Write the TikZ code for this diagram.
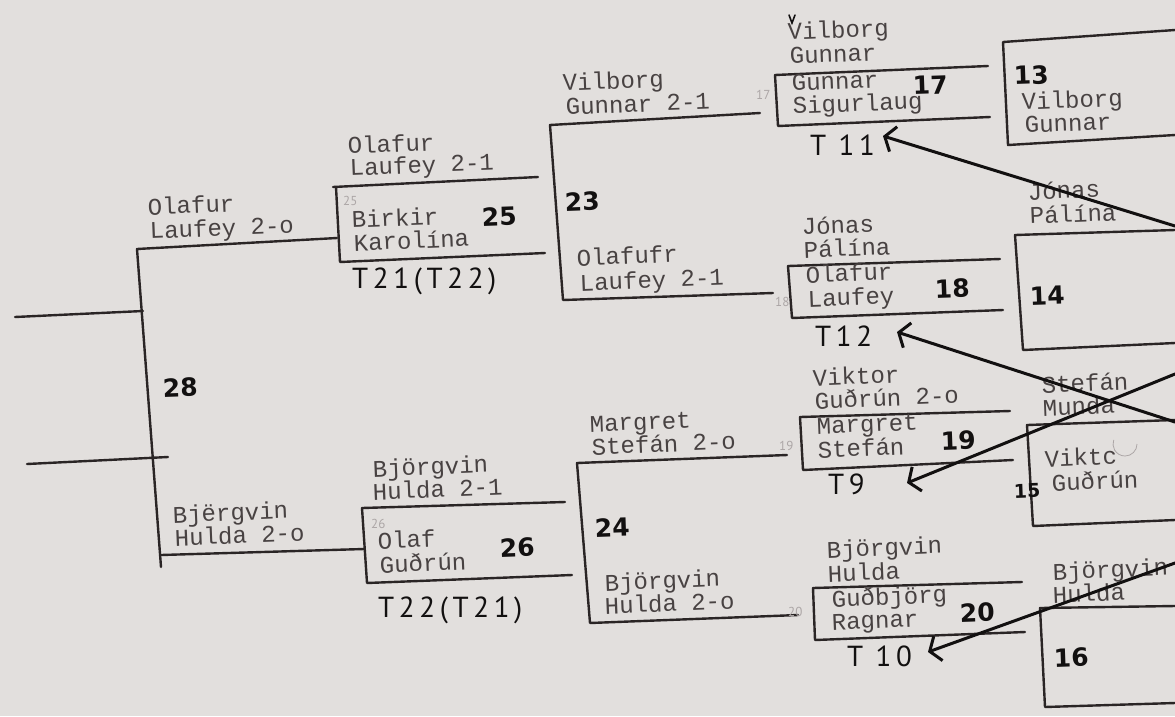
\documentclass[tikz,border=0pt]{standalone}
\usepackage{fontspec}
\setmainfont{Liberation Serif}
\newfontfamily\twfont{Liberation Mono}
\newfontfamily\hwfont{DejaVu Sans}
\newfontfamily\tlfont{PT Sans}
\usetikzlibrary{arrows.meta}
\definecolor{paper}{RGB}{226,223,221}
\definecolor{ink}{RGB}{72,66,66}
\definecolor{rulec}{RGB}{42,37,37}
\definecolor{pen}{RGB}{18,16,16}
\definecolor{pencilc}{RGB}{172,166,166}
\begin{document}
\begin{tikzpicture}[x=1pt,y=-1pt,
  txt/.style={font=\twfont\fontsize{24}{24}\selectfont, text=ink, anchor=base west, inner sep=0pt, rotate=2.3},
  hnum/.style={font=\hwfont\bfseries\fontsize{25}{25}\selectfont, text=pen, anchor=base west, inner sep=0pt, rotate=2},
  tlabel/.style={font=\tlfont\fontsize{29}{29}\selectfont\addfontfeature{LetterSpace=16}, text=pen, anchor=base west, inner sep=0pt},
  pencilnum/.style={font=\tlfont\fontsize{13}{13}\selectfont, text=pencilc, anchor=base west, inner sep=0pt},
  bline/.style={draw=rulec, line width=2.4pt, line join=round, line cap=round},
  harrow/.style={draw=pen, line width=3pt, line cap=round, line join=round, -{Straight Barb[length=9pt,width=26pt]}},
]
\fill[paper] (0,0) rectangle (1175,716);
\useasboundingbox (0,0) rectangle (1175,716);

% ---------- bracket 28 ----------
\draw[bline] (15,317) -- (143,311);
\draw[bline] (27,464) -- (168,457);
\draw[bline] (337,238) -- (137,249) -- (161,567);
\draw[bline] (161,555) -- (364,549);
\node[txt] (t28a) at (148,215) {Olafur};
\node[txt] (t28b) at (150,239) {Laufey 2-o};
\node[txt] (t28c) at (173,523) {Bjërgvin};
\node[txt] (t28d) at (175,546) {Hulda  2-o};
\node[hnum] (n28) at (163,397) {28};

% ---------- box 25 ----------
\draw[bline] (333,187) -- (538,177);
\draw[bline] (336,187) -- (340,262) -- (545,253);
\node[txt] (t25a) at (348,154) {Olafur};
\node[txt] (t25b) at (350,176) {Laufey 2-1};
\node[txt] (t25c) at (352,228) {Birkir};
\node[txt] (t25d) at (354,251) {Karolína};
\node[hnum] (n25) at (482,226) {25};
\node[tlabel] (T25) at (352,288) {T21(T22)};
\node[pencilnum] (p25) at (343,205) {25};

% ---------- bracket 23 ----------
\draw[bline] (760,113) -- (550,125) -- (563,300) -- (773,293);
\node[txt] (t23a) at (563,91) {Vilborg};
\node[txt] (t23b) at (566,115) {Gunnar 2-1};
\node[txt] (t23c) at (577,266) {Olafufr};
\node[txt] (t23d) at (580,291) {Laufey 2-1};
\node[hnum] (n23) at (565,211) {23};
\node[pencilnum] (p17) at (756,99) {17};
\node[pencilnum] (p18) at (775,306) {18};

% ---------- box 17 ----------
\draw[bline] (775,75) -- (988,66);
\draw[bline] (775,75) -- (778,126) -- (990,117);
\node[txt] (t17a) at (788,40) {Vilborg};
\node[txt] (t17b) at (790,64) {Gunnar};
\node[txt] (t17c) at (792,91) {Gunnar};
\node[txt] (t17d) at (793,114) {Sigurlaug};
\node[hnum] (n17) at (913,95) {17};
\node[tlabel] (T11) at (810,155) {T 11};
\draw[pen, line width=1.6pt, line cap=round] (789,15) -- (792,23) -- (795,15);

% ---------- box 13 ----------
\draw[bline] (1175,30) -- (1003,42) -- (1008,145) -- (1175,135);
\node[hnum] (n13) at (1014,85) {13};
\node[txt] (t13a) at (1022,110) {Vilborg};
\node[txt] (t13b) at (1025,133) {Gunnar};

% ---------- box 18 ----------
\draw[bline] (788,266) -- (1000,259);
\draw[bline] (788,266) -- (792,318) -- (1003,310);
\node[txt] (t18a) at (802,235) {Jónas};
\node[txt] (t18b) at (804,258) {Pálína};
\node[txt] (t18c) at (806,283) {Olafur};
\node[txt] (t18d) at (808,307) {Laufey};
\node[hnum] (n18) at (935,298) {18};
\node[tlabel] (T12) at (815,346) {T12};

% ---------- box 14 ----------
\draw[bline] (1175,230) -- (1015,235) -- (1023,350) -- (1175,343);
\node[txt] (t14a) at (1028,200) {Jónas};
\node[txt] (t14b) at (1030,224) {Pálína};
\node[hnum] (n14) at (1030,305) {14};

% ---------- box 19 ----------
\draw[bline] (800,417) -- (1010,411);
\draw[bline] (800,417) -- (803,470) -- (1013,460);
\node[txt] (t19a) at (813,386) {Viktor};
\node[txt] (t19b) at (815,409) {Guðrún 2-o};
\node[txt] (t19c) at (817,434) {Margret};
\node[txt] (t19d) at (818,458) {Stefán};
\node[hnum] (n19) at (941,450) {19};
\node[tlabel] (T9) at (828,494) {T9};
\node[pencilnum] (p19) at (779,450) {19};

% ---------- box 15 ----------
\draw[bline] (1175,420) -- (1027,425) -- (1033,526) -- (1175,520);
\node[txt] (t15a) at (1042,393) {Stefán};
\node[txt] (t15b) at (1043,416) {Munda};
\node[txt] (t15c) at (1045,467) {Viktc};
\node[txt] (t15d) at (1052,491) {Guðrún};
\node[hnum, font=\hwfont\bfseries\fontsize{19}{19}\selectfont] (n15) at (1014,498) {15};
\draw[pencilc, line width=0.8pt] (1137,444) arc[start angle=0, end angle=200, radius=12];

% ---------- box 20 ----------
\draw[bline] (813,588) -- (1022,582);
\draw[bline] (813,588) -- (815,640) -- (1025,632);
\node[txt] (t20a) at (827,558) {Björgvin};
\node[txt] (t20b) at (828,582) {Hulda};
\node[txt] (t20c) at (832,607) {Guðbjörg};
\node[txt] (t20d) at (832,630) {Ragnar};
\node[hnum] (n20) at (960,622) {20};
\node[tlabel] (T10) at (847,666) {T 10};

% ---------- box 16 ----------
\draw[bline] (1175,606) -- (1040,608) -- (1045,707) -- (1175,703);
\node[txt] (t16a) at (1053,580) {Björgvin};
\node[txt] (t16b) at (1053,603) {Hulda};
\node[hnum] (n16) at (1054,667) {16};

% ---------- box 26 ----------
\draw[bline] (362,508) -- (565,502);
\draw[bline] (362,508) -- (367,583) -- (572,575);
\node[txt] (t26a) at (373,477) {Björgvin};
\node[txt] (t26b) at (373,500) {Hulda  2-1};
\node[txt] (t26c) at (378,549) {Olaf};
\node[txt] (t26d) at (380,573) {Guðrún};
\node[hnum] (n26) at (500,557) {26};
\node[tlabel] (T26) at (378,617) {T22(T21)};
\node[pencilnum] (p26) at (371,528) {26};

% ---------- bracket 24 ----------
\draw[bline] (787,455) -- (577,463) -- (590,623) -- (798,615);
\node[txt] (t24a) at (590,432) {Margret};
\node[txt] (t24b) at (592,455) {Stefán 2-o};
\node[txt] (t24c) at (605,591) {Björgvin};
\node[txt] (t24d) at (605,614) {Hulda 2-o};
\node[hnum] (n24) at (595,537) {24};
\node[pencilnum] (p20) at (788,616) {20};

% ---------- hand-drawn arrows ----------
\coordinate (a1s) at (1175,226); \coordinate (a1e) at (883,136);
\coordinate (a2s) at (1175,422); \coordinate (a2e) at (897,332);
\coordinate (a3s) at (1175,374); \coordinate (a3e) at (907,483);
\coordinate (a4s) at (1175,563); \coordinate (a4e) at (928,652);
\draw[harrow] (a1s) -- (a1e);
\draw[harrow] (a2s) -- (a2e);
\draw[harrow] (a3s) -- (a3e);
\draw[harrow] (a4s) -- (a4e);
\end{tikzpicture}
\end{document}
